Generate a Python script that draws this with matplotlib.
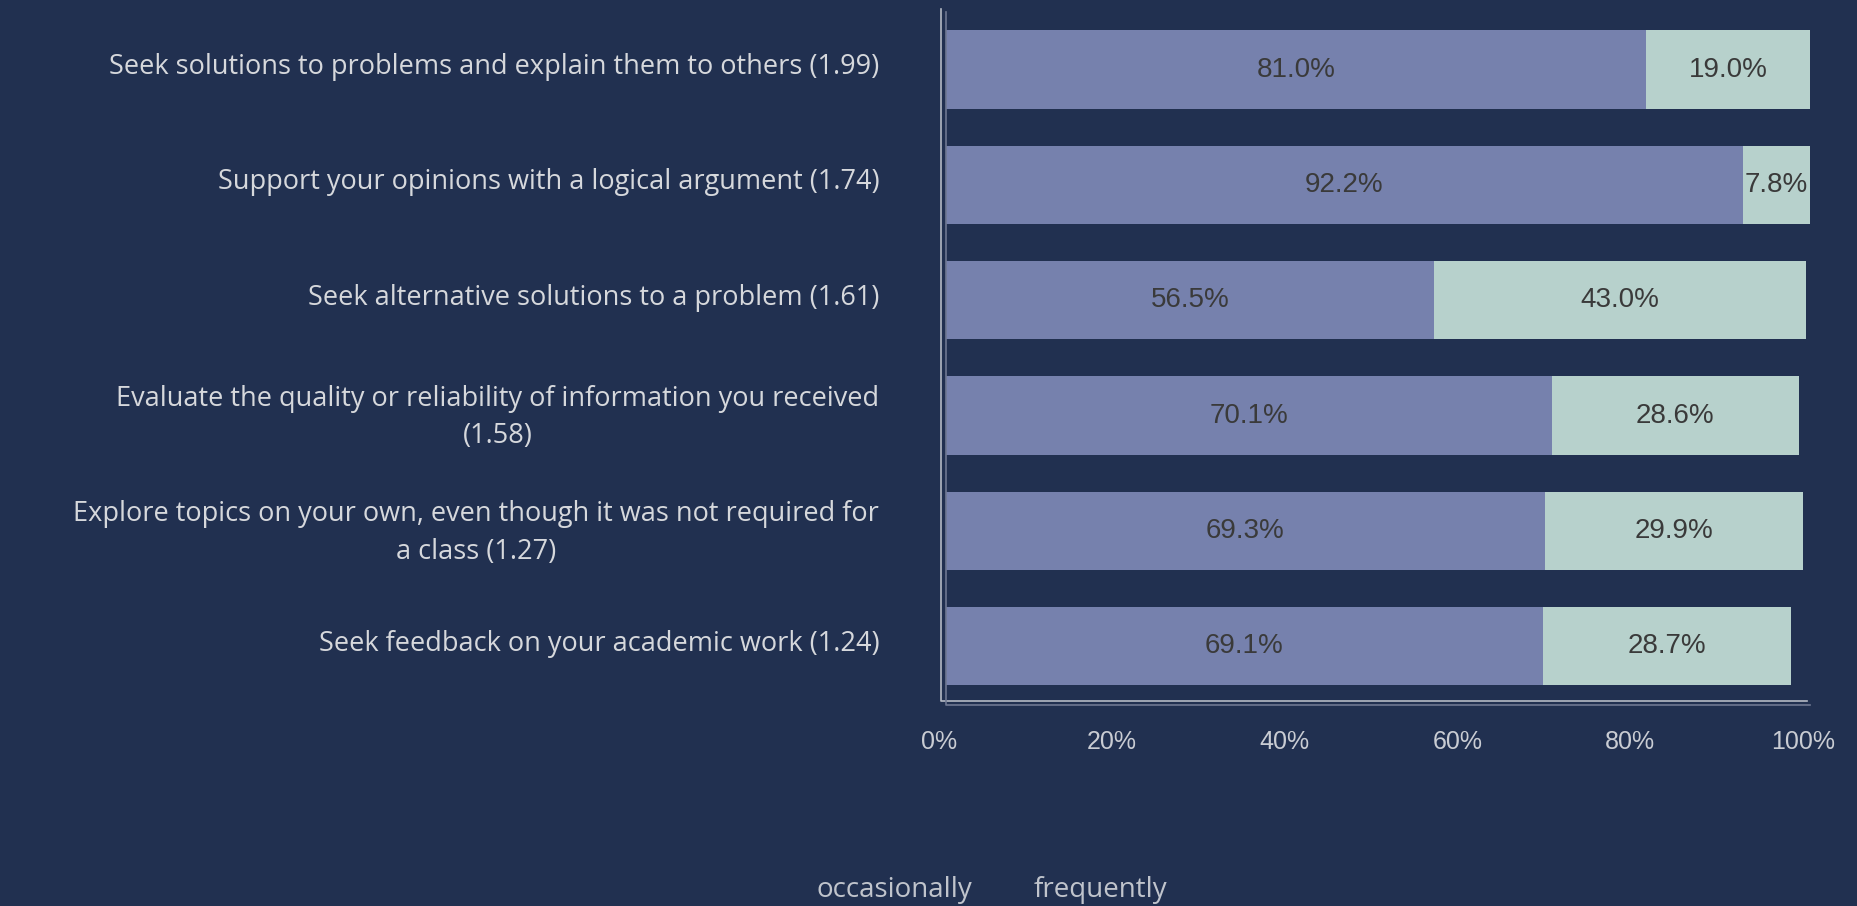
import numpy as np
import matplotlib
matplotlib.use('Agg')
from matplotlib import pyplot as plt
from matplotlib.lines import Line2D
from matplotlib.transforms import ScaledTranslation

categories = [
    'Seek solutions to problems and explain them to others (1.99)',
    'Support your opinions with a logical argument (1.74)',
    'Seek alternative solutions to a problem (1.61)',
    'Evaluate the quality or reliability of information you received\n(1.58)',
    'Explore topics on your own, even though it was not required for\na class (1.27)',
    'Seek feedback on your academic work (1.24)',
]
occasionally = [81.0, 92.2, 56.5, 70.1, 69.3, 69.1]
frequently = [19.0, 7.8, 43.0, 28.6, 29.9, 28.7]
seriesNames = ['occasionally', 'frequently']
xticks = [0, 20, 40, 60, 80, 100]

bgColor = '#213050'
colors = ['#7681ad', '#b7d1cc']
labelFont = ['Open Sans', 'DejaVu Sans']
narrowFont = ['Liberation Sans', 'DejaVu Sans']

fig = plt.figure(figsize=(18.58, 9.06), dpi=100, facecolor=bgColor)
ax = fig.add_axes([0.5091, 0.2219, 0.4651, 0.7649])
ax.set_facecolor(bgColor)

indexes = np.arange(len(categories))
barHeight = 0.68
bars1 = ax.barh(indexes, occasionally, barHeight, color=colors[0], label=seriesNames[0])
bars2 = ax.barh(indexes, frequently, barHeight, left=occasionally, color=colors[1], label=seriesNames[1])

#percentage labels inside the bars
for bars in (bars1, bars2):
    for rect in bars:
        w = rect.get_width()
        ax.text(rect.get_x() + w / 2, rect.get_y() + rect.get_height() / 2, f'{w:.1f}%',
                ha='center', va='center', color='#3a3a3a', fontsize=20, family=narrowFont)

ax.set_xlim(0, 100)
ax.set_ylim(5.51, -0.50)

#tick_params with pad resets label transforms, so call it before the shifts
ax.tick_params(axis='y', length=0, pad=48)
ax.tick_params(axis='x', length=0, pad=18)

#category labels sit a little above the bar centre, multi-line ones centred
ax.set_yticks(indexes)
ax.set_yticklabels(categories, fontsize=19.5, color='#d6d8dc', family=labelFont)
upShift = ScaledTranslation(0, 6 / 100, fig.dpi_scale_trans)
for label in ax.get_yticklabels():
    label.set_multialignment('center')
    label.set_linespacing(1.45)
    label.set_transform(label.get_transform() + upShift)

ax.set_xticks(xticks)
ax.set_xticklabels([f'{t}%' for t in xticks], fontsize=18, color='#c9ccd3', family=narrowFont)
leftShift = ScaledTranslation(-7 / 100, 0, fig.dpi_scale_trans)
for label in ax.get_xticklabels():
    label.set_transform(label.get_transform() + leftShift)

for side in ['left', 'right', 'top', 'bottom']:
    ax.spines[side].set_visible(False)

#double L-shaped frame: lighter outer one, dimmer inner one on the data origin
outer = Line2D([-0.0052, -0.0052, 0.9965], [1.004, 0.0058, 0.0058], transform=ax.transAxes,
               color='#b4b9c4', linewidth=1.2, clip_on=False)
inner = Line2D([0, 0, 1.0], [1.0, 0, 0], transform=ax.transAxes,
               color='#6f7892', linewidth=1.2, clip_on=False)
ax.add_line(outer)
ax.add_line(inner)

leg = fig.legend(handles=[bars1, bars2], labels=seriesNames, loc='center', bbox_to_anchor=(0.534, 0.018),
                 ncol=2, frameon=False, handlelength=0, handletextpad=0, columnspacing=2.2,
                 prop={'family': labelFont, 'size': 20})
for text in leg.get_texts():
    text.set_color('#c0c4cc')
for handle in leg.legend_handles:
    handle.set_visible(False)

fig.savefig('out.png', dpi=100, facecolor=bgColor)
